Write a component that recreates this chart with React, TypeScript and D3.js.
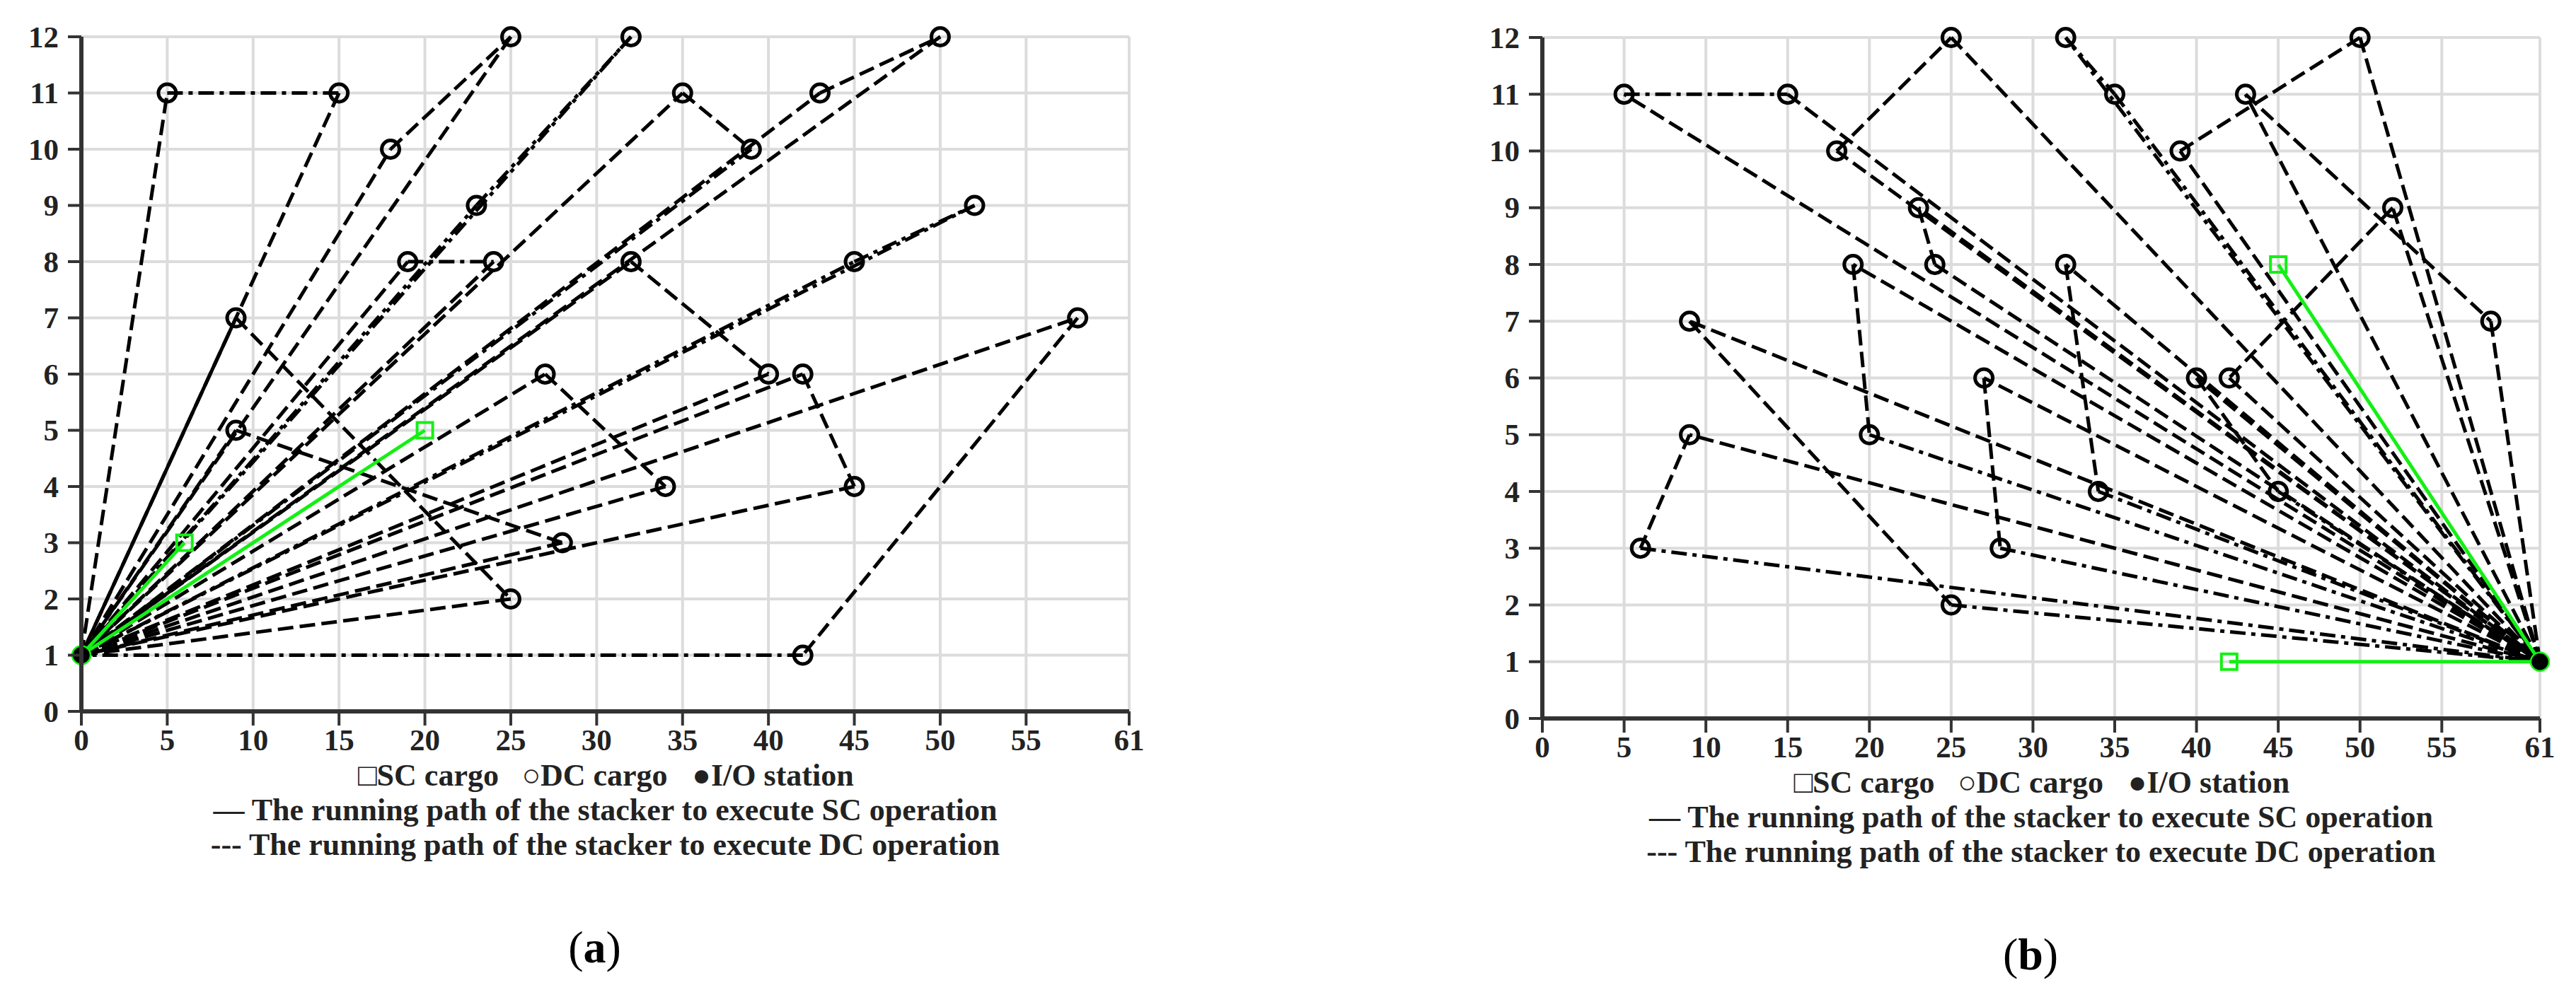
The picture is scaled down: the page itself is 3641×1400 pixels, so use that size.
import React from 'react';
import * as d3 from 'd3';

type Pt = [number, number];

// axis ticks shared by both panels
const xTickValues = [0, 5, 10, 15, 20, 25, 30, 35, 40, 45, 50, 55, 61];
const yTickValues = [0, 1, 2, 3, 4, 5, 6, 7, 8, 9, 10, 11, 12];

// panel (a): I/O station at the left end
const ioA: Pt = [0, 1];
const scCargoA: Pt[] = [[6, 3], [20, 5]];
const dcPairsA: [Pt, Pt][] = [
  [[5, 11], [15, 11]],
  [[9, 7], [25, 2]],
  [[18, 10], [25, 12]],
  [[19, 8], [24, 8]],
  [[35, 11], [39, 10]],
  [[43, 11], [50, 12]],
  [[32, 8], [40, 6]],
  [[42, 6], [45, 4]],
  [[27, 6], [34, 4]],
  [[9, 5], [28, 3]],
  [[58, 7], [42, 1]],
  [[45, 8], [52, 9]],
  [[23, 9], [32, 12]],
];
// line style of each leg: d = dashed, k = dash-dot, s = solid
const dcStylesA = ['dkd', 'sdd', 'ddd', 'dkd', 'ddk', 'ddd', 'ddd', 'ddd', 'ddd', 'ddd', 'ddk', 'kkk', 'kkk'];

// panel (b): I/O station at the right end
const ioB: Pt = [61, 1];
const scCargoB: Pt[] = [[45, 8], [42, 1]];
const dcPairsB: [Pt, Pt][] = [
  [[5, 11], [15, 11]],
  [[18, 10], [25, 12]],
  [[23, 9], [24, 8]],
  [[19, 8], [20, 5]],
  [[9, 7], [25, 2]],
  [[9, 5], [6, 3]],
  [[27, 6], [28, 3]],
  [[32, 8], [34, 4]],
  [[32, 12], [35, 11]],
  [[39, 10], [50, 12]],
  [[43, 11], [58, 7]],
  [[52, 9], [42, 6]],
  [[40, 6], [45, 4]],
];
const dcStylesB = ['dkd', 'ddd', 'ddd', 'ddk', 'ddk', 'ddk', 'ddk', 'ddk', 'kkk', 'ddd', 'ddd', 'ddd', 'ddk'];

const legendMarkers = ['\u25A1SC cargo', '\u25CBDC cargo', '\u25CFI/O station'];
const legendSC = '\u2014 The running path of the stacker to execute SC operation';
const legendDC = '--- The running path of the stacker to execute DC operation';

const dashes: Record<string, string> = { d: '22,9', k: '22,8,6,8', s: 'none' };
const GREEN = '#14f014';
const FONT = "'Liberation Serif', 'Times New Roman', serif";

type Box = { x0: number; x1: number; y0: number; y1: number };

function Panel({ io, sc, pairs, styles, box, tag }: {
  io: Pt; sc: Pt[]; pairs: [Pt, Pt][]; styles: string[]; box: Box; tag: string;
}) {
  const x = d3.scaleLinear().domain([0, 61]).range([box.x0, box.x1]);
  const y = d3.scaleLinear().domain([0, 12]).range([box.y0, box.y1]);
  const line = d3.line<Pt>().x(d => x(d[0])).y(d => y(d[1]));
  const cx = (box.x0 + box.x1) / 2;
  const markerOffsets = [-250, -15, 237];

  const segs: { pts: Pt[]; st: string }[] = [];
  pairs.forEach(([a, b], i) => {
    segs.push({ pts: [io, a], st: styles[i][0] });
    segs.push({ pts: [a, b], st: styles[i][1] });
    segs.push({ pts: [b, io], st: styles[i][2] });
  });
  const circles = pairs.flat();

  return (
    <g>
      {/* grid */}
      {xTickValues.map(v => (
        <line key={'gx' + v} x1={x(v)} x2={x(v)} y1={y(0)} y2={y(12)} stroke="#dcdcdc" strokeWidth={4} />
      ))}
      {yTickValues.map(v => (
        <line key={'gy' + v} x1={x(0)} x2={x(61)} y1={y(v)} y2={y(v)} stroke="#dcdcdc" strokeWidth={4} />
      ))}

      {/* DC routes */}
      {segs.map((s, i) => (
        <path key={'s' + i} d={line(s.pts) || ''} fill="none" stroke="#000" strokeWidth={5}
          strokeDasharray={dashes[s.st]} />
      ))}
      {/* SC routes */}
      {sc.map((p, i) => (
        <path key={'sc' + i} d={line([io, p]) || ''} fill="none" stroke={GREEN} strokeWidth={5} />
      ))}

      {circles.map((p, i) => (
        <circle key={'c' + i} cx={x(p[0])} cy={y(p[1])} r={12.5} fill="none" stroke="#000" strokeWidth={5} />
      ))}
      {sc.map((p, i) => (
        <rect key={'r' + i} x={x(p[0]) - 11} y={y(p[1]) - 11} width={22} height={22}
          fill="none" stroke={GREEN} strokeWidth={4} />
      ))}
      <circle cx={x(io[0])} cy={y(io[1])} r={13} fill="#000" stroke={GREEN} strokeWidth={2.5} />

      {/* axes */}
      <line x1={x(0)} x2={x(61)} y1={y(0)} y2={y(0)} stroke="#333" strokeWidth={6} />
      <line x1={x(0)} x2={x(0)} y1={y(0) + 2} y2={y(12)} stroke="#333" strokeWidth={6} />
      {xTickValues.map(v => (
        <g key={'tx' + v}>
          <line x1={x(v)} x2={x(v)} y1={y(0)} y2={y(0) + 20} stroke="#333" strokeWidth={4} />
          <text x={x(v)} y={y(0) + 40} textAnchor="middle" dominantBaseline="central"
            fontFamily={FONT} fontWeight="bold" fontSize={43} fill="#222">{v}</text>
        </g>
      ))}
      {yTickValues.map(v => (
        <g key={'ty' + v}>
          <line x1={x(0) - 19} x2={x(0)} y1={y(v)} y2={y(v)} stroke="#333" strokeWidth={4} />
          <text x={x(0) - 32} y={y(v)} textAnchor="end" dominantBaseline="central"
            fontFamily={FONT} fontWeight="bold" fontSize={43} fill="#222">{v}</text>
        </g>
      ))}

      {/* legend as text lines */}
      <g fontFamily={FONT} fontWeight="bold" fontSize={44} fill="#222" textAnchor="middle">
        {legendMarkers.map((t, i) => (
          <text key={'lm' + i} x={cx + markerOffsets[i]} y={y(0) + 90} dominantBaseline="central">{t}</text>
        ))}
        <text x={cx} y={y(0) + 139} dominantBaseline="central">{legendSC}</text>
        <text x={cx} y={y(0) + 188} dominantBaseline="central">{legendDC}</text>
      </g>
      <text x={cx - 15} y={y(0) + 333} dominantBaseline="central" textAnchor="middle"
        fontFamily={FONT} fontSize={64} fill="#000">
        (<tspan fontWeight="bold">{tag}</tspan>)
      </text>
    </g>
  );
}

export default function App() {
  return (
    <svg width={3641} height={1400} style={{ position: 'absolute', left: 0, top: 0, background: '#fff' }}>
      <rect width={3641} height={1400} fill="#fff" />
      <Panel io={ioA} sc={scCargoA} pairs={dcPairsA} styles={dcStylesA}
        box={{ x0: 115, x1: 1596, y0: 1006, y1: 52 }} tag="a" />
      <Panel io={ioB} sc={scCargoB} pairs={dcPairsB} styles={dcStylesB}
        box={{ x0: 2180, x1: 3590, y0: 1016, y1: 53 }} tag="b" />
    </svg>
  );
}
